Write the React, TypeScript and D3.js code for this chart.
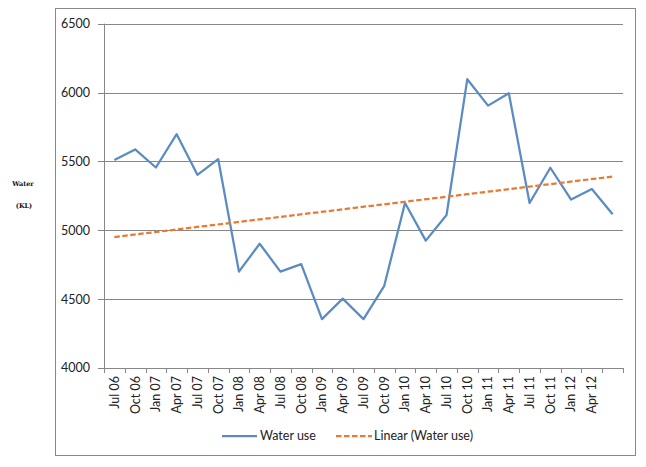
import React from "react";
import * as d3 from "d3";

const categories = [
  "Jul 06", "Oct 06", "Jan 07", "Apr 07", "Jul 07", "Oct 07", "Jan 08", "Apr 08",
  "Jul 08", "Oct 08", "Jan 09", "Apr 09", "Jul 09", "Oct 09", "Jan 10", "Apr 10",
  "Jul 10", "Oct 10", "Jan 11", "Apr 11", "Jul 11", "Oct 11", "Jan 12", "Apr 12", "",
];
const waterUse = [
  5510, 5587, 5456, 5698, 5403, 5517, 4700, 4902, 4700, 4754, 4355, 4504, 4355,
  4597, 5198, 4925, 5111, 6097, 5905, 5995, 5198, 5454, 5223, 5300, 5116,
];
// Linear trendline values at first and last category
const trendEnds = [4951, 5390];
const yTicks = [4000, 4500, 5000, 5500, 6000, 6500];

const W = 646;
const H = 467;
const plot = { left: 104, right: 623, top: 23.7, bottom: 368 };
const FONT = "Lato, 'Open Sans', sans-serif";

export default function App() {
  const x = d3
    .scaleBand<number>()
    .domain(categories.map((_, i) => i))
    .range([plot.left, plot.right])
    .paddingInner(0)
    .paddingOuter(0);
  const bw = x.bandwidth();
  const cx = (i: number) => (x(i) as number) + bw / 2;
  const y = d3.scaleLinear().domain([4000, 6500]).range([plot.bottom, plot.top]);

  const line = d3
    .line<number>()
    .x((_, i) => cx(i))
    .y((d) => y(d));
  const n = waterUse.length;
  const trendPts: [number, number][] = [
    [cx(0), y(trendEnds[0])],
    [cx(n - 1), y(trendEnds[1])],
  ];
  const trendPath = d3.line()(trendPts) as string;

  const blue = "#5a8bc2";
  const orange = "#e57b35";
  const grid = "#878787";

  return (
    <svg
      width={W}
      height={H}
      style={{ position: "absolute", left: 0, top: 0, background: "#fff" }}
    >
      <rect x={0} y={0} width={W} height={H} fill="#fff" />
      <rect x={55.5} y={8.5} width={580} height={447} fill="none" stroke="#888" strokeWidth={1} />

      {/* gridlines */}
      {yTicks.map((t) => (
        <line
          key={"g" + t}
          x1={plot.left}
          x2={plot.right}
          y1={Math.round(y(t)) + 0.5}
          y2={Math.round(y(t)) + 0.5}
          stroke={grid}
          strokeWidth={1}
        />
      ))}
      {/* y axis */}
      <line x1={plot.left + 0.5} x2={plot.left + 0.5} y1={y(6500)} y2={plot.bottom} stroke={grid} />
      {yTicks.map((t) => (
        <g key={"yt" + t}>
          <line
            x1={plot.left - 6}
            x2={plot.left}
            y1={Math.round(y(t)) + 0.5}
            y2={Math.round(y(t)) + 0.5}
            stroke={grid}
          />
          <text
            x={90}
            y={y(t)}
            dy="0.35em"
            textAnchor="end"
            fontFamily={FONT}
            fontSize={12.5}
            fill="#222"
          >
            {t}
          </text>
        </g>
      ))}
      {/* x axis ticks */}
      {d3.range(n + 1).map((i) => {
        const xx = Math.round(plot.left + i * bw) + 0.5;
        return (
          <line key={"xt" + i} x1={xx} x2={xx} y1={plot.bottom} y2={plot.bottom + 5} stroke={grid} />
        );
      })}
      {categories.map((c, i) =>
        c ? (
          <text
            key={"xl" + i}
            transform={`translate(${cx(i)},${plot.bottom + 8}) rotate(-90)`}
            textAnchor="end"
            dy="0.35em"
            fontFamily={FONT}
            fontSize={12.5}
            fill="#222"
          >
            {c}
          </text>
        ) : null
      )}

      {/* y title */}
      <text x={23} y={186} textAnchor="middle" fontFamily="'DejaVu Serif', serif" fontWeight="bold" fontSize={6.5} fill="#111">
        Water
      </text>
      <text x={24} y={208} textAnchor="middle" fontFamily="'DejaVu Serif', serif" fontWeight="bold" fontSize={6.5} fill="#111">
        (KL)
      </text>

      {/* series */}
      <path d={line(waterUse) as string} fill="none" stroke={blue} strokeWidth={2.25} strokeLinejoin="round" />
      <path d={trendPath} fill="none" stroke={orange} strokeWidth={2.25} strokeDasharray="5.5,2.5" />

      {/* legend */}
      <line x1={222} x2={257} y1={436} y2={436} stroke={blue} strokeWidth={2.25} />
      <text x={260} y={436} dy="0.35em" fontFamily={FONT} fontSize={12.5} fill="#222">
        Water use
      </text>
      <line x1={336} x2={372} y1={436} y2={436} stroke={orange} strokeWidth={2.25} strokeDasharray="5.5,2.5" />
      <text x={374} y={436} dy="0.35em" fontFamily={FONT} fontSize={12.5} fill="#222">
        Linear (Water use)
      </text>
    </svg>
  );
}
